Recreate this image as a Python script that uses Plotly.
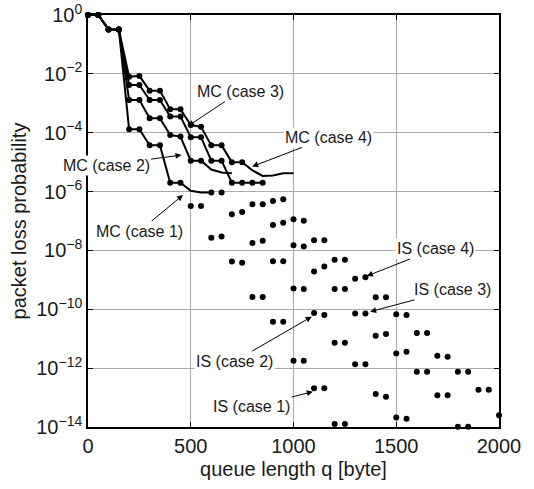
import plotly.graph_objects as go

# queue length grid [byte]
q = [i * 50 for i in range(41)]  # 0 .. 2000

# log10 of packet loss probability (None = below 1e-14)
is_case4_log = [0, 0, -0.49, -0.49, -2.10, -2.07, -2.57, -2.57, -3.20, -3.20,
                -3.74, -3.80, -4.43, -4.43, -5.00, -5.00, -5.70, -5.70, -6.32, -6.26,
                -6.94, -6.99, -7.65, -7.65, -8.32, -8.32, -8.96, -8.91, -9.59, -9.59,
                -10.17, -10.19, -10.81, -10.81, -11.58, -11.61, -12.12, -12.12, -12.73, -12.73,
                -13.60]
is_case3_log = [0, 0, -0.49, -0.49, -2.38, -2.38, -2.89, -2.89, -3.45, -3.45,
                -4.15, -4.15, -4.95, -4.95, -5.70, -5.70, -6.43, -6.43, -7.14, -7.06,
                -7.82, -7.87, -8.72, -8.55, -9.31, -9.31, -10.14, -10.14, -10.90, -10.84,
                -11.50, -11.44, -12.12, -12.12, -12.92, -12.92, -13.99, -13.99, None, None,
                None]
is_case2_log = [0, 0, -0.49, -0.49, -2.89, -2.89, -3.51, -3.51, -4.08, -4.13,
                -4.95, -4.95, -6.03, -6.03, -6.77, -6.69, -7.75, -7.67, -8.37, -8.37,
                -9.29, -9.31, -10.13, -10.19, -11.14, -11.14, -11.87, -11.87, -12.88, -12.97,
                -13.68, -13.72, None, None, None, None, None, None, None, None,
                None]
is_case1_log = [0, 0, -0.49, -0.49, -3.88, -3.88, -4.43, -4.43, -5.70, -5.70,
                -6.49, -6.49, -7.57, -7.53, -8.38, -8.42, -9.58, -9.58, -10.42, -10.42,
                -11.75, -11.75, -12.68, -12.68, -13.90, -13.90, None, None, None, None,
                None, None, None, None, None, None, None, None, None, None,
                None]

# Monte Carlo curves
mc_case4_q = q[:21]
mc_case4_log = is_case4_log[:16] + [-5.28, -5.47, -5.45, -5.38, -5.38]
mc_case3_q = q[:18]
mc_case3_log = is_case3_log[:16] + [-5.70, -5.70]
mc_case2_q = q[:15]
mc_case2_log = is_case2_log[:12] + [-5.25, -5.35, -5.38]
mc_case1_q = q[:13]
mc_case1_log = is_case1_log[:10] + [-5.97, -6.03, -6.03]


def p(vals):
    return [None if v is None else 10 ** v for v in vals]


fig = go.Figure()
for xs, ys in [(mc_case1_q, mc_case1_log), (mc_case2_q, mc_case2_log),
               (mc_case3_q, mc_case3_log), (mc_case4_q, mc_case4_log)]:
    fig.add_trace(go.Scatter(x=xs, y=p(ys), mode="lines",
                             line=dict(color="black", width=2), showlegend=False))
for ys in [is_case1_log, is_case2_log, is_case3_log, is_case4_log]:
    fig.add_trace(go.Scatter(x=q, y=p(ys), mode="markers",
                             marker=dict(color="black", size=6), cliponaxis=False,
                             showlegend=False))

font = "Liberation Sans, Arial, Helvetica, sans-serif"
ann = [
    ("MC (case 3)", 487, -3.77, 740, -2.6),
    ("MC (case 4)", 799, -5.15, 1168, -4.16),
    ("MC (case 2)", 455, -4.76, 88, -5.1),
    ("MC (case 1)", 462, -6.12, 251, -7.34),
    ("IS (case 4)", 1357, -8.87, 1690, -7.95),
    ("IS (case 3)", 1373, -10.08, 1773, -9.34),
    ("IS (case 2)", 1089, -10.25, 715, -11.76),
    ("IS (case 1)", 1094, -12.8, 798, -13.32),
]
for text, x, y, ax, ay in ann:
    fig.add_annotation(x=x, y=y, ax=ax, ay=ay, xref="x", yref="y", axref="x", ayref="y",
                       text=text, showarrow=True, arrowhead=2, arrowsize=1.2, arrowwidth=1,
                       arrowcolor="black", bgcolor="white", borderpad=1,
                       font=dict(size=16, color="#1a1a1a", family=font))

ytick_vals = [10 ** (-k) for k in range(0, 15, 2)]
ytick_text = ["10<sup>0</sup>"] + ["10<sup>−%d</sup>" % k for k in range(2, 15, 2)]

fig.update_layout(
    width=534, height=489,
    margin=dict(l=88, r=35, t=15, b=62),
    paper_bgcolor="white", plot_bgcolor="white",
    font=dict(family=font, size=20, color="#1a1a1a"),
    xaxis=dict(range=[0, 2000], tickvals=[0, 500, 1000, 1500, 2000],
               showgrid=True, gridcolor="#aaaaaa", gridwidth=1,
               showline=True, linecolor="black", linewidth=1.5, mirror="ticks",
               ticks="inside", ticklen=5, tickcolor="black", zeroline=False,
               automargin=False, ticklabeloverflow="allow",
               title=dict(text="queue length q [byte]", font=dict(size=20), standoff=6)),
    yaxis=dict(type="log", range=[-14, 0], tickvals=ytick_vals, ticktext=ytick_text,
               showgrid=True, gridcolor="#aaaaaa", gridwidth=1,
               showline=True, linecolor="black", linewidth=1.5, mirror="ticks",
               ticks="inside", ticklen=5, tickcolor="black", zeroline=False,
               automargin=False, ticklabeloverflow="allow",
               title=dict(text="packet loss probability", font=dict(size=20), standoff=4)),
)

fig.write_html("out.html", config={"displayModeBar": False},
               post_script="document.body.style.margin='0px';")
